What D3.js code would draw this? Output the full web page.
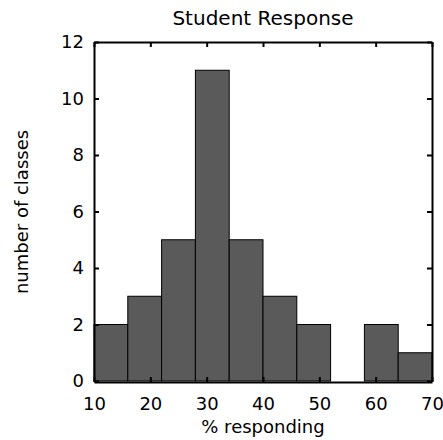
<!DOCTYPE html>
<html>
<head>
<meta charset="utf-8">
<script src="https://cdn.jsdelivr.net/npm/d3@7"></script>
<style>
  body { margin: 0; background: #fff; }
  text { font-family: "DejaVu Sans", sans-serif; fill: #000; }
</style>
</head>
<body>
<div id="chart-area"></div>
<script>
// bin edges and counts
const binStarts = [10, 16, 22, 28, 34, 40, 46, 52, 58, 64]
const binWidth = 6
const counts = [2, 3, 5, 11, 5, 3, 2, 0, 2, 1]
const xTicks = [10, 20, 30, 40, 50, 60, 70]
const yTicks = [0, 2, 4, 6, 8, 10, 12]

const MARGIN = { LEFT: 94, RIGHT: 11, TOP: 42, BOTTOM: 58 }
const WIDTH = 443 - MARGIN.LEFT - MARGIN.RIGHT
const HEIGHT = 440 - MARGIN.TOP - MARGIN.BOTTOM

const svg = d3.select("#chart-area").append("svg")
  .attr("width", 443)
  .attr("height", 440)

const group = svg.append("g")
  .attr("transform", `translate(${MARGIN.LEFT}, ${MARGIN.TOP})`)

const x = d3.scaleLinear().domain([10, 70]).range([0, WIDTH])
const y = d3.scaleLinear().domain([0, 12]).range([HEIGHT - 1, 0])

// bars
group.selectAll("rect.bar")
  .data(counts.map((c, i) => ({ start: binStarts[i], count: c })).filter(d => d.count > 0))
  .enter().append("rect")
  .attr("class", "bar")
  .attr("x", d => x(d.start))
  .attr("y", d => y(d.count))
  .attr("width", d => x(d.start + binWidth) - x(d.start))
  .attr("height", d => y(0) - y(d.count))
  .attr("fill", "#5a5a5a")
  .attr("stroke", "#000")
  .attr("stroke-width", 1)

// axes, ticks pointing inward
const tickLen = 5
const xBottom = d3.axisBottom(x).tickValues(xTicks).tickSizeInner(-tickLen).tickSizeOuter(0).tickPadding(15)
const xTop = d3.axisTop(x).tickValues(xTicks).tickSizeInner(-tickLen).tickSizeOuter(0).tickFormat("")
const yLeft = d3.axisLeft(y).tickValues(yTicks).tickSizeInner(-tickLen).tickSizeOuter(0).tickPadding(10)
const yRight = d3.axisRight(y).tickValues(yTicks).tickSizeInner(-tickLen).tickSizeOuter(0).tickFormat("")

function style(g) {
  g.selectAll("path").attr("stroke", "#000").attr("stroke-width", 2)
  g.selectAll("line").attr("stroke", "#000").attr("stroke-width", 2)
  g.selectAll("text").attr("font-size", "18px").attr("font-family", "DejaVu Sans, sans-serif")
}

group.append("g").attr("transform", `translate(0, ${HEIGHT})`).call(xBottom).call(style)
group.append("g").call(xTop).call(style)
group.append("g").call(yLeft).call(style)
group.append("g").attr("transform", `translate(${WIDTH}, 0)`).call(yRight).call(style)

// title
svg.append("text")
  .attr("x", MARGIN.LEFT + WIDTH / 2)
  .attr("y", 25)
  .attr("text-anchor", "middle")
  .attr("font-size", "20px")
  .text("Student Response")

// x label
svg.append("text")
  .attr("x", MARGIN.LEFT + WIDTH / 2)
  .attr("y", 433)
  .attr("text-anchor", "middle")
  .attr("font-size", "18px")
  .text("% responding")

// y label
svg.append("text")
  .attr("transform", `translate(28, ${MARGIN.TOP + HEIGHT / 2}) rotate(-90)`)
  .attr("text-anchor", "middle")
  .attr("font-size", "18px")
  .attr("font-family", "Liberation Sans, Arial, sans-serif")
  .text("number of classes")
</script>
</body>
</html>
